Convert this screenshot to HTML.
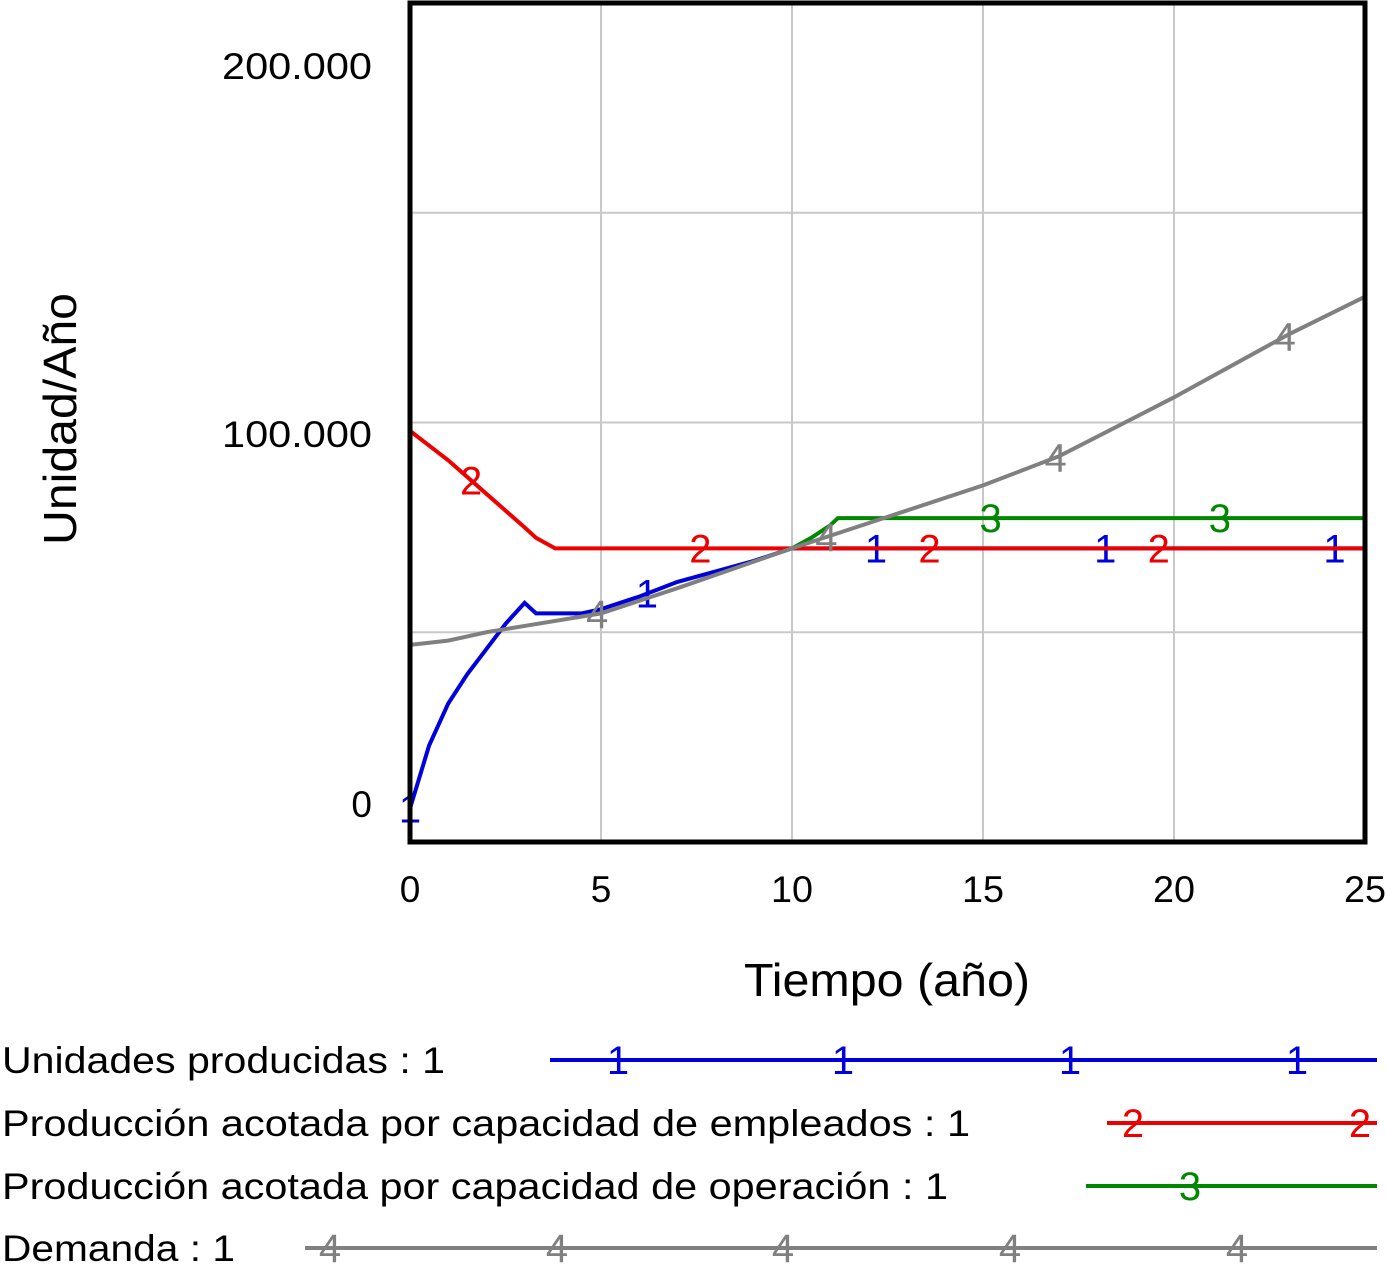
<!DOCTYPE html>
<html><head><meta charset="utf-8"><style>
body{margin:0;background:#fff}
svg text{font-family:"Liberation Sans",sans-serif}
</style></head><body>
<svg id="c" width="1386" height="1277" xmlns="http://www.w3.org/2000/svg"></svg>
<script>
const xTicks=[0,5,10,15,20,25];
const yTickVals=[0,100000,200000];
const yTickLabels=["0","100.000","200.000"];
const tBlue=[0,0.2,0.5,1,1.5,2,2.5,3,3.3,4.5,5,6,7,8,9,10,25];
const vBlue=[8000,14000,23000,33000,40000,46000,52000,57000,54500,54500,55500,58500,62000,64500,67000,70000,70000];
const tRed=[0,0.5,1,2,3,3.3,3.8,25];
const vRed=[98000,94500,91000,83000,75000,72500,70000,70000];
const tGreen=[10,10.5,11,11.2,25];
const vGreen=[70000,72500,75500,77200,77200];
const tGray=[0,1,2,3,5,7,10,11,15,17,20,23,25];
const vGray=[47000,48000,50000,51500,54500,60500,70000,73000,85000,92000,106000,121000,130000];
const series=[
 {name:"unidades-producidas",t:tBlue,v:vBlue,c:"#0000dd",lab:"1",marks:[0,6.2,12.2,18.2,24.2]},
 {name:"produccion-empleados",t:tRed,v:vRed,c:"#ee0000",lab:"2",marks:[1.6,7.6,13.6,19.6]},
 {name:"produccion-operacion",t:tGreen,v:vGreen,c:"#008800",lab:"3",marks:[15.2,21.2]},
 {name:"demanda",t:tGray,v:vGray,c:"#808080",lab:"4",marks:[4.9,10.9,16.9,22.9]}];
const legendNames=["Unidades producidas : 1","Producción acotada por capacidad de empleados : 1","Producción acotada por capacidad de operación : 1","Demanda : 1"];
const legendLen=[443,968,946,233];
const legendStart=[550,1107,1086,305];
const legendMarks=[[618,843,1070,1297],[1133,1360],[1190],[330,557,783,1010,1237]];
const X0=410,X1=1365,Y0=842,Y1=3;
const sx=t=>X0+t/25*(X1-X0), sy=v=>Y0-v/200000*(Y0-Y1);
const svg=document.getElementById('c'),NS="http://www.w3.org/2000/svg";
function mk(tag,a,txt){const e=document.createElementNS(NS,tag);for(const k in a)e.setAttribute(k,a[k]);if(txt!==undefined)e.textContent=txt;svg.appendChild(e);return e;}
function interp(t,ts,vs){for(let i=1;i<ts.length;i++)if(t<=ts[i]){const f=(t-ts[i-1])/(ts[i]-ts[i-1]);return vs[i-1]+f*(vs[i]-vs[i-1]);}return vs[vs.length-1];}
for(const t of xTicks){const g=mk('line',{x1:sx(t),x2:sx(t),y1:Y1,y2:Y0,stroke:"#c8c8c8","stroke-width":2});


const a={x:sx(t),y:902,"text-anchor":"middle","font-size":37};
if(t>=10){a.textLength=42;a.lengthAdjust="spacingAndGlyphs";}
const l=mk('text',a,String(t));

}
for(let v=50000;v<200000;v+=50000){const g=mk('line',{x1:X0,x2:X1,y1:sy(v),y2:sy(v),stroke:"#c8c8c8","stroke-width":2});

}
yTickVals.forEach((v,i)=>{const yy=[817,447,79][i];const a={x:372,y:yy,"text-anchor":"end","font-size":37};
if(i>0){a.textLength=150;a.lengthAdjust="spacingAndGlyphs";}
const l=mk('text',a,yTickLabels[i]);

});
for(const s of series){const pts=s.t.map((t,i)=>sx(t)+","+sy(s.v[i])).join(" ");
const p=mk('polyline',{points:pts,fill:"none",stroke:s.c,"stroke-width":4});


for(const m of s.marks){const tt=Math.max(m,s.t[0]);const l=mk('text',{x:sx(tt),y:sy(interp(tt,s.t,s.v))+14,"text-anchor":"middle","font-size":40,fill:s.c},s.lab);

}}
const fr=mk('rect',{x:X0,y:Y1,width:X1-X0,height:Y0-Y1,fill:"none",stroke:"#000","stroke-width":5});


const xt=mk('text',{x:887,y:996,"text-anchor":"middle","font-size":46,textLength:286,lengthAdjust:"spacingAndGlyphs"},"Tiempo (año)");


const yt=mk('text',{x:0,y:0,"text-anchor":"middle","font-size":46,textLength:252,lengthAdjust:"spacingAndGlyphs",transform:"translate(76,419) rotate(-90)"},"Unidad/Año");


const ly=[1060,1123,1186,1248];
legendNames.forEach((n,i)=>{const s=series[i];
const t=mk('text',{x:2,y:ly[i]+13,"font-size":37,textLength:legendLen[i],lengthAdjust:"spacingAndGlyphs"},n);


const l=mk('line',{x1:legendStart[i],x2:1377,y1:ly[i],y2:ly[i],stroke:s.c,"stroke-width":4});


for(const mx of legendMarks[i]){const m=mk('text',{x:mx,y:ly[i]+14,"text-anchor":"middle","font-size":40,fill:s.c},s.lab);

}});
</script>
</body></html>
